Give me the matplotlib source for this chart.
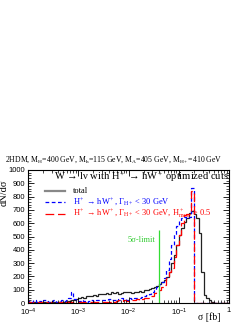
import numpy as np
import matplotlib
matplotlib.use('Agg')
import matplotlib.pyplot as plt
from matplotlib.ticker import MultipleLocator, LogLocator, FixedLocator, NullFormatter

plt.rcParams['font.family'] = ['Liberation Serif', 'DejaVu Serif']
plt.rcParams['mathtext.fontset'] = 'custom'
plt.rcParams['mathtext.rm'] = 'Liberation Serif'
plt.rcParams['mathtext.it'] = 'Liberation Serif:italic'
plt.rcParams['mathtext.bf'] = 'Liberation Serif:bold'
plt.rcParams['mathtext.sf'] = 'Liberation Sans'

# 80 log bins from 1e-4 to 1
edges = 10 ** np.linspace(-4, 0, 81)

total = [5, 0, 5, 5, 0, 5, 5, 0, 5, 5, 5, 0, 5, 10, 5,
         10, 15, 20, 25, 30, 35, 45, 40, 50, 55, 50, 60, 55, 65, 70,
         65, 75, 70, 80, 75, 80, 70, 75, 80, 85, 80, 75, 85, 80, 90,
         85, 95, 100, 105, 115, 120, 130, 140, 160, 175, 195, 235, 300, 360, 435,
         510, 565, 610, 640, 680, 690, 670, 640, 530, 230, 60, 40, 20, 10, 0,
         0, 0, 0, 0, 0]

width30 = [15, 10, 20, 10, 15, 10, 20, 15, 10, 15, 20, 10, 15, 20, 15,
           25, 40, 85, 30, 20, 15, 20, 15, 10, 15, 20, 15, 20, 25, 20,
           25, 20, 30, 25, 20, 30, 25, 35, 30, 25, 35, 30, 35, 40, 40,
           45, 50, 60, 70, 80, 100, 120, 140, 160, 185, 250, 330, 435, 520, 580,
           620, 640, 645, 640, 650, 865, 0, 0, 0, 0, 0, 0, 0, 0, 0,
           0, 0, 0, 0, 0]

width30_mass = [5, 0, 5, 0, 5, 5, 0, 5, 0, 5, 5, 0, 5, 5, 0,
                5, 5, 10, 5, 5, 10, 5, 10, 5, 10, 5, 10, 10, 5, 10,
                10, 5, 10, 15, 10, 15, 20, 15, 20, 15, 25, 20, 25, 30, 25,
                30, 35, 35, 40, 55, 75, 90, 100, 120, 135, 190, 230, 265, 345, 435,
                510, 600, 660, 670, 670, 840, 0, 0, 0, 0, 0, 0, 0, 0, 0,
                0, 0, 0, 0, 0]

limit_5sigma = 0.0405
limit_height = 550

fig = plt.figure(figsize=(2.53, 3.27), dpi=100)
ax = fig.add_axes([28/253, 1 - 303/327, 201/253, 133/327])

ax.stairs(total, edges, color='#222222', lw=0.9)
ax.stairs(width30, edges, color='blue', lw=0.9, ls=(0, (3, 2)))
ax.stairs(width30_mass, edges, color='red', lw=0.9, ls=(0, (7, 3)))

ax.vlines(limit_5sigma, 0, limit_height, color='#33dd33', lw=0.9)
ax.text(0.034, 472, '5σ-limit', color='#33cc33', fontsize=6,
        ha='right', va='center')

ax.set_xscale('log')
ax.set_xlim(1e-4, 1)
ax.set_ylim(0, 1000)

#ticks, ROOT style
ax.xaxis.set_major_locator(FixedLocator([1e-4, 1e-3, 1e-2, 1e-1, 1]))
ax.set_xticklabels([r'$\mathsf{10^{-4}}$', r'$\mathsf{10^{-3}}$', r'$\mathsf{10^{-2}}$',
                    r'$\mathsf{10^{-1}}$', '1'])
ax.xaxis.set_minor_locator(LogLocator(base=10, subs=np.arange(2, 10), numticks=20))
ax.xaxis.set_minor_formatter(NullFormatter())
ax.yaxis.set_major_locator(MultipleLocator(100))
ax.yaxis.set_minor_locator(MultipleLocator(20))
ax.tick_params(which='both', direction='in', top=True, right=True, labelsize=5.5)
ax.tick_params(axis='x', pad=3)
ax.tick_params(axis='y', pad=2)
ax.tick_params(which='major', length=4, width=0.6)
ax.tick_params(which='minor', length=2, width=0.5)
for lab in ax.get_yticklabels() + ax.get_xticklabels():
    lab.set_family(['Liberation Sans', 'DejaVu Sans'])
for s in ax.spines.values():
    s.set_linewidth(0.8)

fig.text(221/253, 1 - 317/327, 'σ [fb]', fontsize=7,
         ha='right', va='center')
fig.text(4/253, 1 - 180/327, 'dN/dσ', rotation=90, fontsize=7.5,
         ha='center', va='top')

fig.text(5/253, 1 - 160/327,
         r'2HDM, M$_\mathrm{H}$=400 GeV, M$_\mathrm{h}$=115 GeV, M$_\mathrm{A}$=405 GeV, M$_\mathrm{H+}$=410 GeV',
         fontsize=5.6, ha='left', va='center')

# legend by hand
ax.text(0.565, 0.95, r'W → lν with H$^+$ → hW$^+$ optimized cuts',
        transform=ax.transAxes, fontsize=7.6, ha='center', va='center')
rows = [0.84, 0.757, 0.672]
ax.plot([0.085, 0.184], [rows[0]] * 2, transform=ax.transAxes, color='#888888', lw=1.6)
ax.plot([0.085, 0.184], [rows[1]] * 2, transform=ax.transAxes, color='blue', lw=0.9, ls=(0, (3, 2)))
ax.plot([0.085, 0.184], [rows[2]] * 2, transform=ax.transAxes, color='red', lw=0.9, ls=(0, (7, 3)))
ax.text(0.224, rows[0], 'total', transform=ax.transAxes, fontsize=6, va='center')
ax.text(0.224, rows[1], r'H$^+$ → hW$^+$, Γ$_\mathrm{H+}$ < 30 GeV',
        transform=ax.transAxes, fontsize=6, va='center', color='blue')
ax.text(0.224, rows[2], r'H$^+$ → hW$^+$, Γ$_\mathrm{H+}$ < 30 GeV, H$^+_\mathrm{mass}$ > 0.5',
        transform=ax.transAxes, fontsize=6, va='center', color='red', clip_on=False)

fig.savefig('out.png', dpi=100)
